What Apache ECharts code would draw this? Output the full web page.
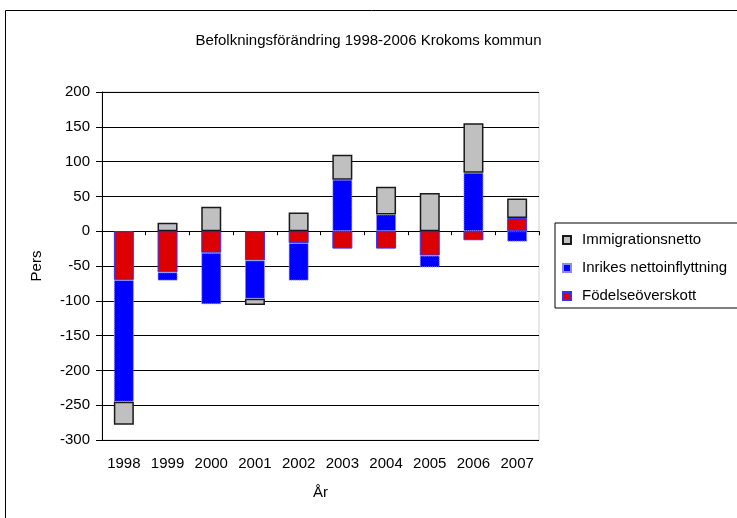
<!DOCTYPE html>
<html>
<head>
<meta charset="utf-8">
<script src="https://cdn.jsdelivr.net/npm/echarts@6/dist/echarts.min.js"></script>
<style>
  html, body { margin: 0; padding: 0; background: #fff; }
  #chart { width: 737px; height: 518px; }
</style>
</head>
<body>
<div id="chart"></div>
<script>
const years = ['1998', '1999', '2000', '2001', '2002', '2003', '2004', '2005', '2006', '2007']
const fodelseoverskott = [-70, -59, -31, -42, -17, -25, -25, -35, -13, 19]
const inrikesNetto = [-175, -12, -74, -55, -54, 74, 24, -17, 84, -15]
const immigrationsnetto = [-33, 12, 35, -9, 27, 36, 40, 55, 71, 28]

const font = "'Liberation Sans', Arial, sans-serif"

const chart = echarts.init(document.getElementById('chart'))

const option = {
  animation: false,
  textStyle: { fontFamily: font, color: '#000' },
  graphic: [
    {
      type: 'rect',
      shape: { x: 5.5, y: 10.5, width: 1000, height: 1000 },
      style: { fill: 'none', stroke: '#000', lineWidth: 1 }
    }
  ],
  title: {
    text: 'Befolkningsförändring 1998-2006 Krokoms kommun',
    left: 'center',
    top: 28,
    textStyle: { fontFamily: font, fontSize: 15, fontWeight: 'normal', color: '#000' }
  },
  legend: {
    orient: 'vertical',
    left: 555,
    top: 223,
    padding: [8, 12, 3, 7],
    itemWidth: 8,
    itemHeight: 8,
    itemGap: 10,
    icon: 'rect',
    borderColor: '#000',
    borderWidth: 1,
    backgroundColor: '#fff',
    textStyle: { fontFamily: font, fontSize: 15, lineHeight: 18, color: '#000', padding: [0, 0, 0, 6] },
    data: ['Immigrationsnetto', 'Inrikes nettoinflyttning', 'Födelseöverskott']
  },
  grid: {
    left: 102,
    right: 198,
    top: 92,
    bottom: 78,
    show: true,
    borderColor: '#d0d0d0',
    borderWidth: 1
  },
  xAxis: [
    {
      type: 'category',
      data: years,
      axisLine: { onZero: true, lineStyle: { color: '#000', width: 1 } },
      axisTick: { show: true, length: 4, lineStyle: { color: '#000' } },
      axisLabel: { show: false }
    },
    {
      type: 'category',
      data: years,
      position: 'bottom',
      axisLine: { show: false, onZero: false },
      axisTick: { show: false },
      axisLabel: { margin: 16, fontSize: 15, color: '#000', fontFamily: font },
      name: 'År',
      nameLocation: 'middle',
      nameGap: 45,
      nameTextStyle: { fontSize: 15, color: '#000', fontFamily: font }
    }
  ],
  yAxis: {
    type: 'value',
    min: -300,
    max: 200,
    interval: 50,
    name: 'Pers',
    nameLocation: 'middle',
    nameGap: 58,
    nameTextStyle: { fontSize: 15, color: '#000', fontFamily: font },
    axisLine: { show: true, lineStyle: { color: '#000', width: 1 } },
    axisTick: { show: true, length: 6, lineStyle: { color: '#000' } },
    axisLabel: { margin: 12, fontSize: 15, color: '#000', fontFamily: font },
    splitLine: { show: true, lineStyle: { color: '#000', width: 1 } }
  },
  series: [
    {
      name: 'Födelseöverskott',
      type: 'bar',
      stack: 'total',
      barWidth: 20,
      data: fodelseoverskott,
      itemStyle: { color: '#dd0000', borderColor: '#3333ff', borderWidth: 1 }
    },
    {
      name: 'Inrikes nettoinflyttning',
      type: 'bar',
      stack: 'total',
      barWidth: 20,
      data: inrikesNetto,
      itemStyle: { color: '#0000ff', borderColor: '#8c8cff', borderWidth: 1, borderType: 'dotted' }
    },
    {
      name: 'Immigrationsnetto',
      type: 'bar',
      stack: 'total',
      barWidth: 20,
      data: immigrationsnetto,
      itemStyle: { color: '#c0c0c0', borderColor: '#1a1a1a', borderWidth: 1.5 }
    }
  ]
}

chart.setOption(option)
</script>
</body>
</html>
